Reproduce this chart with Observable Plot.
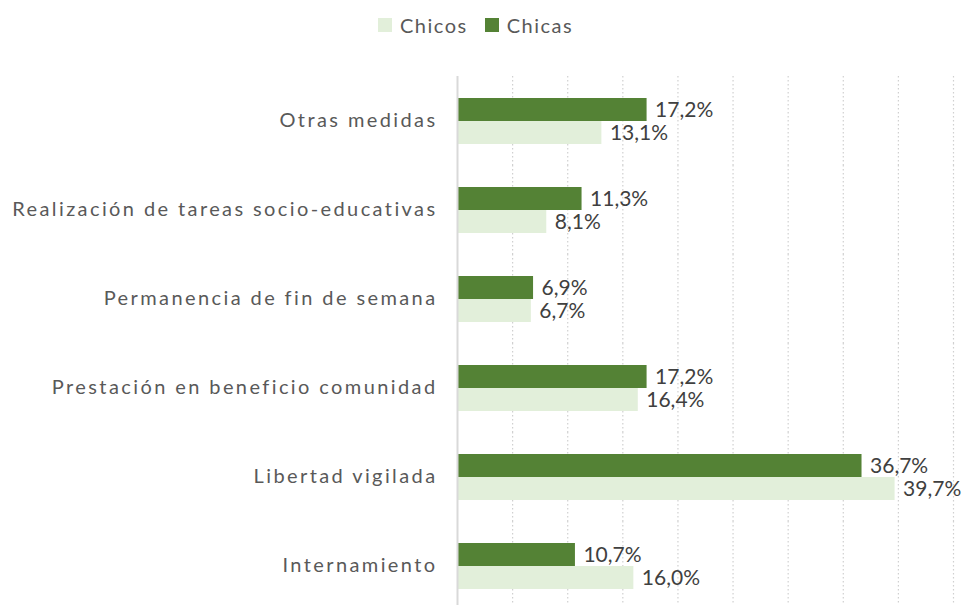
<!DOCTYPE html>
<html>
<head>
<meta charset="utf-8">
<script src="https://cdn.jsdelivr.net/npm/d3@7"></script>
<script src="https://cdn.jsdelivr.net/npm/@observablehq/plot@0.6"></script>
<style>
  html, body { margin: 0; padding: 0; background: #fff; width: 968px; height: 605px; overflow: hidden; position: relative; }
  #legend { position: absolute; left: 378px; top: 13px; display: flex; align-items: center; font-family: Lato, sans-serif; font-size: 20px; letter-spacing: 1.5px; color: #595959; }
  #legend .sw { width: 14px; height: 14px; display: inline-block; margin-right: 8px; }
  #legend .item { display: flex; align-items: center; margin-right: 17px; }
  #chart { position: absolute; left: 0; top: 0; }
  svg [aria-label*="fy-axis"] text { letter-spacing: 2.4px; font-size: 20px; }
</style>
</head>
<body>
<div id="legend"></div>
<div id="chart"></div>
<script>
const categories = ["Otras medidas", "Realización de tareas socio-educativas", "Permanencia de fin de semana", "Prestación en beneficio comunidad", "Libertad vigilada", "Internamiento"];
const seriesNames = ["Chicos", "Chicas"];
const chicos = [13.1, 8.1, 6.7, 16.4, 39.7, 16.0];
const chicas = [17.2, 11.3, 6.9, 17.2, 36.7, 10.7];
const gridTicks = [5, 10, 15, 20, 25, 30, 35, 40, 45];
const colors = {Chicos: "#E2EFDA", Chicas: "#548235"};

const rows = [];
categories.forEach((c, i) => {
  rows.push({category: c, series: "Chicas", value: chicas[i]});
  rows.push({category: c, series: "Chicos", value: chicos[i]});
});
const fmt = v => v.toFixed(1).replace(".", ",") + "%";

const legend = document.getElementById("legend");
seriesNames.forEach(s => {
  const it = document.createElement("span");
  it.className = "item";
  it.innerHTML = `<span class="sw" style="background:${colors[s]}"></span><span>${s}</span>`;
  legend.appendChild(it);
});

const chart = Plot.plot({
  width: 968,
  height: 611,
  marginTop: 75,
  marginBottom: 0,
  marginLeft: 457,
  marginRight: 15,
  style: {fontFamily: "Lato, sans-serif", fontSize: "18px", color: "#595959", background: "transparent"},
  facet: {data: rows, y: "category"},
  fy: {domain: categories, padding: 0, label: null, axis: "left", tickSize: 0, tickPadding: 20},
  x: {domain: [0, 45], axis: null},
  y: {domain: ["Chicas", "Chicos"], axis: null, paddingInner: 0, paddingOuter: 0.9},
  color: {domain: seriesNames, range: seriesNames.map(s => colors[s])},
  marks: [
    Plot.ruleX(gridTicks, {stroke: "#d0d0d0", strokeDasharray: "1.5,2.5", strokeWidth: 1.2}),
    Plot.barX(rows, {x: "value", y: "series", fill: "series"}),
    Plot.ruleX([0], {stroke: "#d9d9d9", strokeWidth: 2}),
    Plot.text(rows, {x: "value", y: "series", text: d => fmt(d.value), dx: 8, textAnchor: "start", fill: "#404040", fontSize: 21})
  ]
});
document.getElementById("chart").appendChild(chart);
</script>
</body>
</html>
